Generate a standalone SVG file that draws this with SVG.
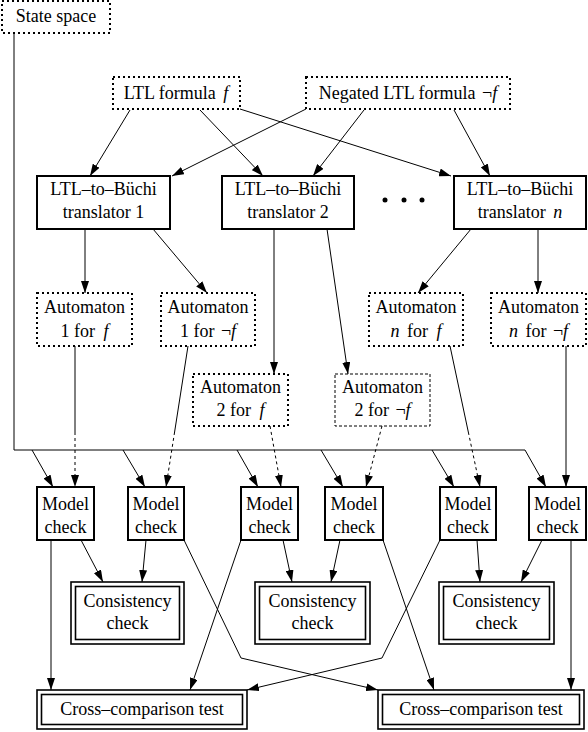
<svg xmlns="http://www.w3.org/2000/svg" width="588" height="732" viewBox="0 0 588 732">
<defs>
<marker id="ah" markerUnits="userSpaceOnUse" markerWidth="12" markerHeight="8" refX="12" refY="4" orient="auto">
<path d="M0,0 L12,4 L0,8 z" fill="#000"/>
</marker>
<style>
text{font-family:"Liberation Serif","Times New Roman",serif;font-size:18px;fill:#000;text-anchor:middle}
.i{font-style:italic}
.dot{fill:#fff;stroke:#000;stroke-width:2;stroke-dasharray:2 3}
.dash{fill:#fff;stroke:#000;stroke-width:1;stroke-dasharray:3 2}
.box{fill:#fff;stroke:#000;stroke-width:2}
.dbl{fill:none;stroke:#000;stroke-width:1.6}
#edges line,#edges polyline{stroke:#000;stroke-width:1;fill:none}
#edges .a{marker-end:url(#ah)}
#edges .d{stroke-dasharray:3 3}
</style>
</defs>
<rect width="588" height="732" fill="#fff"/>
<g id="edges">
<polyline points="14,33 14,450 525,450"/>
<line class="a" x1="130" y1="110" x2="90" y2="176"/>
<line class="a" x1="200" y1="110" x2="263" y2="176"/>
<line class="a" x1="240" y1="109" x2="451" y2="176"/>
<line class="a" x1="306" y1="109" x2="172" y2="176"/>
<line class="a" x1="364" y1="110" x2="313" y2="176"/>
<line class="a" x1="454" y1="110" x2="490" y2="176"/>
<line class="a" x1="85" y1="229" x2="85" y2="293"/>
<line class="a" x1="153" y1="229" x2="207" y2="293"/>
<line class="a" x1="274" y1="229" x2="274" y2="374"/>
<line class="a" x1="327" y1="229" x2="348" y2="374"/>
<line class="a" x1="471" y1="229" x2="418" y2="293"/>
<line class="a" x1="538" y1="229" x2="538" y2="293"/>
<line class="a" x1="32" y1="450" x2="53" y2="487"/>
<line class="a" x1="123" y1="450" x2="145" y2="487"/>
<line class="a" x1="237" y1="450" x2="258" y2="487"/>
<line class="a" x1="321" y1="450" x2="343" y2="487"/>
<line class="a" x1="432" y1="450" x2="454" y2="487"/>
<line class="a" x1="525" y1="450" x2="546" y2="487"/>
<line x1="75" y1="346" x2="75" y2="432"/>
<line class="a d" x1="75" y1="432" x2="75" y2="487"/>
<line x1="188" y1="346" x2="174.6" y2="432"/>
<line class="a d" x1="174.6" y1="432" x2="166" y2="487"/>
<line class="a d" x1="270" y1="426" x2="281" y2="487"/>
<line class="a d" x1="382" y1="426" x2="366" y2="487"/>
<line x1="450" y1="346" x2="468.3" y2="432"/>
<line class="a d" x1="468.3" y1="432" x2="480" y2="487"/>
<line class="a" x1="566" y1="346" x2="566" y2="487"/>
<line class="a" x1="81" y1="540" x2="103" y2="582"/>
<line class="a" x1="146" y1="540" x2="142" y2="582"/>
<line class="a" x1="283" y1="540" x2="292" y2="582"/>
<line class="a" x1="340" y1="540" x2="331" y2="582"/>
<line class="a" x1="477" y1="540" x2="480" y2="582"/>
<line class="a" x1="542" y1="540" x2="521" y2="582"/>
<line class="a" x1="51" y1="540" x2="51" y2="690"/>
<polyline class="a" points="184,540 241,658 378,690"/>
<line class="a" x1="241" y1="540" x2="190" y2="690"/>
<line class="a" x1="383" y1="540" x2="434" y2="690"/>
<polyline class="a" points="440,540 382,658 247,690"/>
<line class="a" x1="571" y1="540" x2="571" y2="690"/>
</g>
<g id="state-space"><rect class="dot" x="2" y="1" width="108" height="32"/><text x="56" y="22">State space</text></g>
<g id="ltl-f"><rect class="dot" x="113" y="77" width="127" height="32"/><text x="176" y="99">LTL formula <tspan class="i" dx="3">f</tspan></text></g>
<g id="ltl-neg"><rect class="dot" x="306" y="77" width="204" height="32"/><text x="408" y="99">Negated LTL formula <tspan dx="2">¬</tspan><tspan class="i">f</tspan></text></g>
<g id="trans1"><rect class="box" x="37" y="176" width="133" height="53"/><text x="103.5" y="195">LTL–to–Büchi</text><text x="103.5" y="218">translator 1</text></g>
<g id="trans2"><rect class="box" x="222" y="176" width="132" height="53"/><text x="288" y="195">LTL–to–Büchi</text><text x="288" y="218">translator 2</text></g>
<g id="ellipsis"><circle cx="385" cy="200" r="2.5"/><circle cx="404" cy="200" r="2.5"/><circle cx="422" cy="200" r="2.5"/></g>
<g id="transn"><rect class="box" x="454" y="176" width="132" height="53"/><text x="520" y="195">LTL–to–Büchi</text><text x="520" y="218">translator <tspan class="i" dx="3">n</tspan></text></g>
<g id="auto1f"><rect class="dot" x="37" y="293" width="95" height="53"/><text x="84.5" y="313">Automaton</text><text x="84.5" y="337">1 for <tspan class="i" dx="4">f</tspan></text></g>
<g id="auto1nf"><rect class="dot" x="161" y="293" width="94" height="53"/><text x="208" y="313">Automaton</text><text x="208" y="337">1 for <tspan dx="2">¬</tspan><tspan class="i">f</tspan></text></g>
<g id="auto2f"><rect class="dot" x="193" y="374" width="95" height="52"/><text x="240.5" y="393">Automaton</text><text x="240.5" y="416">2 for <tspan class="i" dx="4">f</tspan></text></g>
<g id="auto2nf"><rect class="dash" x="335" y="374" width="95" height="52"/><text x="382.5" y="393">Automaton</text><text x="382.5" y="416">2 for <tspan dx="2">¬</tspan><tspan class="i">f</tspan></text></g>
<g id="autonf"><rect class="dot" x="369" y="293" width="94" height="53"/><text x="416" y="313">Automaton</text><text x="416" y="337"><tspan class="i">n</tspan><tspan dx="3"> for </tspan><tspan class="i" dx="4">f</tspan></text></g>
<g id="autonnf"><rect class="dot" x="491" y="293" width="95" height="53"/><text x="538.5" y="313">Automaton</text><text x="538.5" y="337"><tspan class="i">n</tspan><tspan dx="3"> for </tspan><tspan dx="2">¬</tspan><tspan class="i">f</tspan></text></g>
<g id="mc1"><rect class="box" x="37" y="487" width="57" height="53"/><text x="65.5" y="510">Model</text><text x="65.5" y="533">check</text></g>
<g id="mc2"><rect class="box" x="128" y="487" width="56" height="53"/><text x="156" y="510">Model</text><text x="156" y="533">check</text></g>
<g id="mc3"><rect class="box" x="241" y="487" width="57" height="53"/><text x="269.5" y="510">Model</text><text x="269.5" y="533">check</text></g>
<g id="mc4"><rect class="box" x="325" y="487" width="58" height="53"/><text x="354" y="510">Model</text><text x="354" y="533">check</text></g>
<g id="mc5"><rect class="box" x="440" y="487" width="56" height="53"/><text x="468" y="510">Model</text><text x="468" y="533">check</text></g>
<g id="mc6"><rect class="box" x="529" y="487" width="57" height="53"/><text x="557.5" y="510">Model</text><text x="557.5" y="533">check</text></g>
<g id="cc1"><rect class="dbl" x="71" y="582" width="113" height="62"/><rect class="dbl" x="75.5" y="586.5" width="104" height="53"/><text x="127.5" y="607">Consistency</text><text x="127.5" y="629">check</text></g>
<g id="cc2"><rect class="dbl" x="255" y="582" width="115" height="62"/><rect class="dbl" x="259.5" y="586.5" width="106" height="53"/><text x="312.5" y="607">Consistency</text><text x="312.5" y="629">check</text></g>
<g id="cc3"><rect class="dbl" x="439" y="582" width="115" height="62"/><rect class="dbl" x="443.5" y="586.5" width="106" height="53"/><text x="496.5" y="607">Consistency</text><text x="496.5" y="629">check</text></g>
<g id="xc1"><rect class="dbl" x="37" y="690" width="210" height="39"/><rect class="dbl" x="41.5" y="694.5" width="201" height="30"/><text x="142" y="715">Cross–comparison test</text></g>
<g id="xc2"><rect class="dbl" x="378" y="690" width="206" height="39"/><rect class="dbl" x="382.5" y="694.5" width="197" height="30"/><text x="481" y="715">Cross–comparison test</text></g>
</svg>
